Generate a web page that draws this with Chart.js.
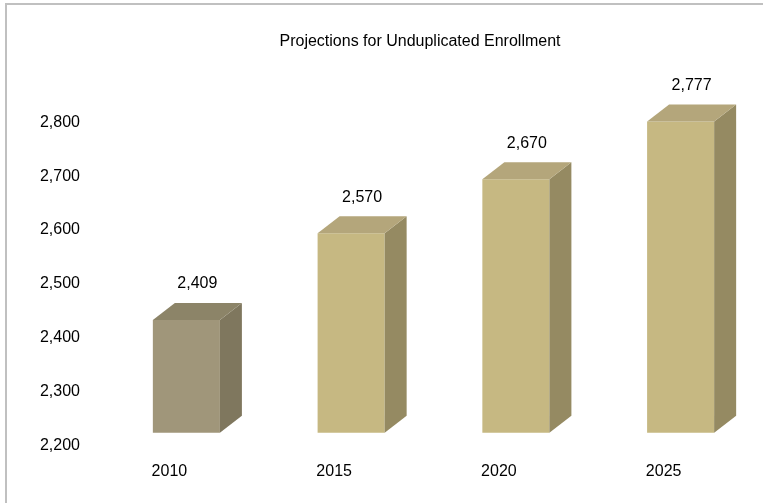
<!DOCTYPE html>
<html>
<head>
<meta charset="utf-8">
<script src="https://cdn.jsdelivr.net/npm/chart.js@4"></script>
<style>
  body { margin: 0; background: #fff; }
  #wrap { position: relative; width: 763px; height: 503px; }
  #frame { position: absolute; left: 5px; top: 3px; right: 0; bottom: 0;
           border-left: 2px solid #c0c0c0; border-top: 2px solid #c0c0c0; pointer-events: none; }
</style>
</head>
<body>
<div id="wrap">
  <canvas id="chart" width="763" height="503"></canvas>
  <div id="frame"></div>
</div>
<script>
// chart data
const years = ['2010', '2015', '2020', '2025'];
const enrollment = [2409, 2570, 2670, 2777];
const yTicks = [2200, 2300, 2400, 2500, 2600, 2700, 2800];

const FONT = '"Liberation Sans Narrow", "Arial Narrow", "Liberation Sans", Arial, sans-serif';

// colours: first bar is greyer, the rest tan
const frontCol = ['#a0967a', '#c6b882', '#c6b882', '#c6b882'];
const sideCol = ['#7f775e', '#958a62', '#958a62', '#958a62'];
const topCol = ['#8c8468', '#b4a67b', '#b4a67b', '#b4a67b'];

const DX = 22, DY = -17;

// draws the side and top faces plus the value labels
const box3d = {
  id: 'box3d',
  afterLayout(chart) {
    const t = chart.titleBlock;
    if (t) { t.left = 77; t.width = t.right - t.left; }
  },
  afterDatasetsDraw(chart) {
    const ctx = chart.ctx;
    const meta = chart.getDatasetMeta(0);
    const base = chart.scales.y.getPixelForValue(chart.scales.y.min);
    meta.data.forEach((bar, i) => {
      const l = bar.x - bar.width / 2, r = bar.x + bar.width / 2;
      const top = bar.y;
      ctx.save();
      // side
      ctx.fillStyle = sideCol[i];
      ctx.beginPath();
      ctx.moveTo(r, top); ctx.lineTo(r + DX, top + DY);
      ctx.lineTo(r + DX, base + DY); ctx.lineTo(r, base);
      ctx.closePath(); ctx.fill();
      // top
      ctx.fillStyle = topCol[i];
      ctx.beginPath();
      ctx.moveTo(l, top); ctx.lineTo(l + DX, top + DY);
      ctx.lineTo(r + DX, top + DY); ctx.lineTo(r, top);
      ctx.closePath(); ctx.fill();
      // label
      ctx.fillStyle = '#000';
      ctx.font = '16px ' + FONT;
      ctx.textAlign = 'center';
      ctx.textBaseline = 'middle';
      ctx.fillText(enrollment[i].toLocaleString('en-US'), bar.x + DX / 2, top + DY - 19);
      ctx.restore();
    });
  }
};

new Chart(document.getElementById('chart'), {
  type: 'bar',
  data: {
    labels: years,
    datasets: [{
      data: enrollment,
      backgroundColor: frontCol,
      borderWidth: 0,
      categoryPercentage: 1,
      barPercentage: 0.407
    }]
  },
  options: {
    responsive: false,
    animation: false,
    layout: { padding: 0 },
    plugins: {
      legend: { display: false },
      tooltip: { enabled: false },
      title: {
        display: true,
        text: 'Projections for Unduplicated Enrollment',
        color: '#000',
        font: { family: FONT, size: 16, weight: 'normal' },
        padding: { top: 32, bottom: 58 }
      }
    },
    scales: {
      x: {
        afterFit: axis => { axis.height = 70.3; },
        grid: { display: false, drawTicks: false },
        border: { display: false },
        ticks: { color: '#000', font: { family: FONT, size: 16 }, padding: 29, labelOffset: -17 }
      },
      y: {
        min: 2200,
        max: 2800,
        afterBuildTicks: axis => { axis.ticks = yTicks.map(v => ({ value: v })); },
        afterFit: axis => { axis.width = 104; },
        grid: { display: false, drawTicks: false },
        border: { display: false },
        ticks: {
          color: '#000',
          font: { family: FONT, size: 16 },
          padding: 24,
          labelOffset: 13,
          callback: v => v.toLocaleString('en-US')
        }
      }
    }
  },
  plugins: [box3d]
});
</script>
</body>
</html>
